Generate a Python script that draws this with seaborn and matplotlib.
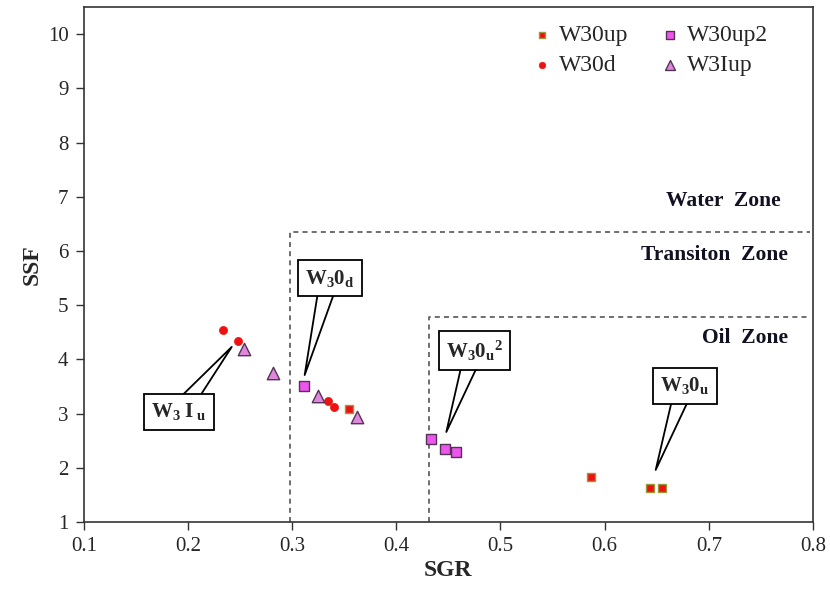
import matplotlib
matplotlib.use("Agg")
import matplotlib.pyplot as plt
import seaborn as sns
import pandas as pd

# ---- data ----
w30up_x = [0.355, 0.587, 0.644, 0.655]
w30up_y = [3.09, 1.83, 1.63, 1.63]
w30d_x = [0.234, 0.248, 0.334, 0.340]
w30d_y = [4.54, 4.34, 3.23, 3.12]
w30up2_x = [0.311, 0.433, 0.447, 0.457]
w30up2_y = [3.51, 2.53, 2.35, 2.30]
w3iup_x = [0.254, 0.282, 0.325, 0.362]
w3iup_y = [4.19, 3.74, 3.33, 2.94]

xticks = [0.1, 0.2, 0.3, 0.4, 0.5, 0.6, 0.7, 0.8]
yticks = [1, 2, 3, 4, 5, 6, 7, 8, 9, 10]

# zone boundaries
trans_x, trans_y = 0.298, 6.35
oil_x, oil_y = 0.431, 4.78
zone_end_x = 0.797

zone_labels = ["Water  Zone", "Transiton  Zone", "Oil  Zone"]
zone_label_y = [6.92, 5.93, 4.39]
zone_label_x = [0.769, 0.776, 0.776]

callout_text = [r"$\mathbf{W_3\ I_{\ u}}$", r"$\mathbf{W_30_d}$",
                r"$\mathbf{W_30_u{}^2}$", r"$\mathbf{W_30_u}$"]
callout_pos = [(0.191, 3.03), (0.336, 5.50), (0.475, 4.16), (0.677, 3.51)]
callout_tip = [(0.242, 4.23), (0.312, 3.71), (0.448, 2.66), (0.649, 1.96)]

sns.set_theme(style="white")
plt.rcParams["font.family"] = ["Liberation Serif", "DejaVu Serif"]
plt.rcParams["mathtext.fontset"] = "custom"
plt.rcParams["mathtext.rm"] = "Liberation Serif"
plt.rcParams["mathtext.bf"] = "Liberation Serif:bold"
plt.rcParams["mathtext.it"] = "Liberation Serif:italic"

fig = plt.figure(figsize=(8.3, 5.89), dpi=100)
ax = fig.add_axes([0.101, 0.1138, 0.8785, 0.8743])

df = pd.concat([
    pd.DataFrame({"SGR": w30up_x, "SSF": w30up_y, "s": "W30up"}),
    pd.DataFrame({"SGR": w30d_x, "SSF": w30d_y, "s": "W30d"}),
    pd.DataFrame({"SGR": w30up2_x, "SSF": w30up2_y, "s": "W30up2"}),
    pd.DataFrame({"SGR": w3iup_x, "SSF": w3iup_y, "s": "W3Iup"}),
])

styles = {
    "W30up": dict(marker="s", color="#ee1111", edgecolor="#9a9a3a", s=30, linewidth=1.0),
    "W30d": dict(marker="o", color="#ee1111", edgecolor="#ee1111", s=34, linewidth=0.5),
    "W30up2": dict(marker="s", color="#ee55ee", edgecolor="#553355", s=62, linewidth=1.0),
    "W3Iup": dict(marker="^", color="#dd88dd", edgecolor="#553355", s=80, linewidth=1.0),
}
for name in ["W30up", "W30d", "W30up2", "W3Iup"]:
    sub = df[df["s"] == name]
    sns.scatterplot(data=sub, x="SGR", y="SSF", ax=ax, label=name, zorder=4,
                    **styles[name])

# zone dashed lines
ax.plot([trans_x, trans_x, zone_end_x], [1, trans_y, trans_y], ls=(0, (3, 2.5)),
        color="#555555", lw=1.2, zorder=2)
ax.plot([oil_x, oil_x, zone_end_x], [1, oil_y, oil_y], ls=(0, (3, 2.5)),
        color="#555555", lw=1.2, zorder=2)

for t, x, y in zip(zone_labels, zone_label_x, zone_label_y):
    ax.text(x, y, t, ha="right", va="center", fontsize=15.5, fontweight="bold",
            color="#111122")

for t, p, tip in zip(callout_text, callout_pos, callout_tip):
    ax.annotate(t, xy=tip, xytext=p, ha="center", va="center", fontsize=15,
                bbox=dict(boxstyle="square,pad=0.35", fc="white", ec="black", lw=1.3),
                arrowprops=dict(arrowstyle="wedge,tail_width=0.9,shrink_factor=0.5",
                                fc="white", ec="black", lw=1.3,
                                patchA=None, shrinkA=0, shrinkB=0),
                zorder=5)

ax.set_xlim(0.1, 0.8)
ax.set_ylim(1, 10.5)
ax.set_xticks(xticks)
ax.set_xticklabels([f"{v:.1f}" for v in xticks])
ax.set_yticks(yticks)
ax.set_yticklabels([str(v) for v in yticks])
ax.tick_params(axis="both", labelsize=15, direction="out", length=6, width=1,
               color="#333333", left=True, bottom=True, pad=5)
ax.set_xlabel("SGR", fontsize=17, fontweight="bold", labelpad=3)
ax.set_ylabel("SSF", fontsize=17, fontweight="bold", labelpad=4)
for sp in ax.spines.values():
    sp.set_color("#333333")
    sp.set_linewidth(1.2)

leg = ax.legend(loc="upper right", bbox_to_anchor=(0.951, 0.985), ncol=2,
                frameon=False, fontsize=17, markerscale=0.8,
                handlelength=0.8, handletextpad=0.32, columnspacing=1.37,
                borderaxespad=0, labelspacing=0.39)

fig.savefig("out.png", dpi=100)
